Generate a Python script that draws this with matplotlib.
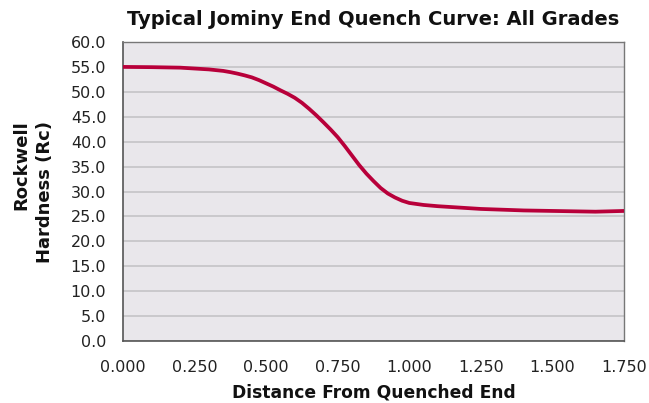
import matplotlib.pyplot as plt

# Values
distance = [0.000, 0.100, 0.200, 0.300, 0.350, 0.375, 0.400, 0.425, 0.450, 0.475,
            0.500, 0.525, 0.550, 0.575, 0.600, 0.625, 0.650, 0.675, 0.700, 0.725,
            0.750, 0.775, 0.800, 0.825, 0.850, 0.875, 0.900, 0.925, 0.950, 0.975,
            1.000, 1.050, 1.100, 1.250, 1.400, 1.500, 1.650, 1.750]
hardness = [55.0, 54.95, 54.85, 54.5, 54.2, 53.95, 53.65, 53.3, 52.9, 52.35,
            51.7, 51.05, 50.3, 49.6, 48.8, 47.8, 46.6, 45.3, 43.9, 42.45,
            40.9, 39.1, 37.2, 35.3, 33.6, 32.1, 30.7, 29.6, 28.8, 28.15,
            27.7, 27.3, 27.05, 26.5, 26.2, 26.1, 25.95, 26.1]

x_ticks = [0.0, 0.25, 0.5, 0.75, 1.0, 1.25, 1.5, 1.75]
y_ticks = [0, 5, 10, 15, 20, 25, 30, 35, 40, 45, 50, 55, 60]

plt.rcParams['font.family'] = ['DejaVu Sans']

fig = plt.figure(figsize=(6.49, 4.03), dpi=100)
ax = fig.add_axes([0.1895, 0.1538, 0.772, 0.742])
ax.set_facecolor('#e9e7eb')

ax.plot(distance, hardness, color='#b8003a', linewidth=2.7,
        solid_joinstyle='round', zorder=3)

ax.set_xlim(0, 1.75)
ax.set_ylim(0, 60)
ax.set_xticks(x_ticks)
ax.set_xticklabels(['%.3f' % t for t in x_ticks], fontsize=11.5, color='#222222')
ax.set_yticks(y_ticks)
ax.set_yticklabels(['%.1f' % t for t in y_ticks], fontsize=11.5, color='#222222')
ax.tick_params(axis='both', length=0)
ax.tick_params(axis='x', pad=14)
ax.tick_params(axis='y', pad=12)

ax.yaxis.grid(True, color='#c4c3c6', linewidth=1.2)
ax.set_axisbelow(True)

for side in ['left', 'bottom']:
    ax.spines[side].set_color('#555555')
    ax.spines[side].set_linewidth(1.2)
for side in ['top', 'right']:
    ax.spines[side].set_color('#777777')
    ax.spines[side].set_linewidth(1.0)

ax.set_title('Typical Jominy End Quench Curve: All Grades', fontsize=14,
             fontweight='bold', pad=12, color='#111111')
ax.set_xlabel('Distance From Quenched End', fontsize=12.3, fontweight='bold',
              labelpad=6, color='#111111')
ax.set_ylabel('Rockwell\nHardness (Rc)', fontsize=13, fontweight='bold',
              labelpad=12, color='#111111', linespacing=1.4,
              multialignment='right')

fig.savefig('out.png', dpi=100)
